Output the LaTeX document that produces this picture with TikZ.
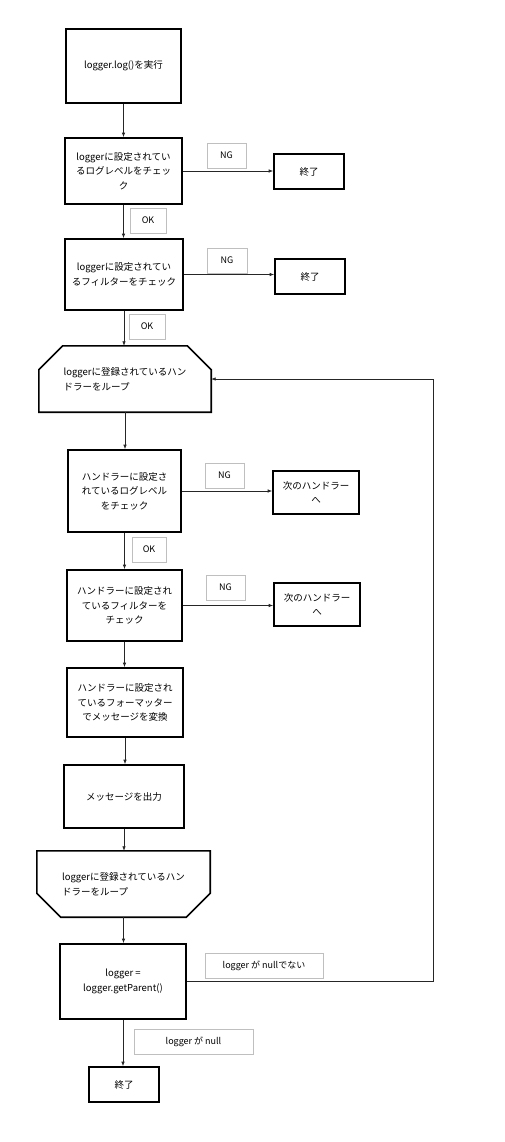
\documentclass[tikz,border=0pt]{standalone}
\usepackage{fontspec}
\setmainfont{Noto Sans CJK JP}
\usetikzlibrary{calc,arrows.meta}

\begin{document}
\begin{tikzpicture}[x=1pt,y=-1pt,font=\fontsize{9.5}{14.5}\selectfont,
        box/.style={draw,line width=1.6pt,align=center,inner sep=2pt},
        lbl/.style={draw=black!25,line width=0.7pt,minimum height=25pt,inner sep=0pt,font=\fontsize{9}{11}\selectfont},
        flow/.style={-{Latex[length=4.5pt,width=3.5pt]},line width=0.7pt,black!85}]
    \useasboundingbox (0,0) rectangle (504,1142);
    % main column
    \node[box,minimum width=115pt,minimum height=74pt] (start) at (123.5,66) {logger.log()を実行};
    \node[box,minimum width=117pt,minimum height=66pt] (chk1) at (123.5,171) {loggerに設定されてい\\るログレベルをチェッ\\ク};
    \node[box,minimum width=118pt,minimum height=71pt] (chk2) at (124,274.5) {loggerに設定されてい\\るフィルターをチェック};
    \node[minimum width=172pt,minimum height=66pt,align=left] (loop1) at (125,379) {loggerに登録されているハン\\ドラーをループ};
    \node[box,minimum width=113pt,minimum height=82pt] (hchk1) at (124.5,491) {ハンドラーに設定さ\\れているログレベル\\をチェック};
    \node[box,minimum width=115pt,minimum height=71pt] (hchk2) at (124.5,605.5) {ハンドラーに設定され\\ているフィルターを\\チェック};
    \node[box,minimum width=116pt,minimum height=69pt] (fmt) at (125,702.5) {ハンドラーに設定され\\ているフォーマッター\\でメッセージを変換};
    \node[box,minimum width=120pt,minimum height=63pt] (out) at (124,796.5) {メッセージを出力};
    \node[minimum width=173pt,minimum height=66pt,align=left] (loop2) at (123.5,884) {loggerに登録されているハン\\ドラーをループ};
    \node[box,minimum width=126pt,minimum height=75pt] (parent) at (123,981.5) {logger =\\logger.getParent()};
    \node[box,minimum width=70pt,minimum height=35pt] (end3) at (124,1084.5) {終了};
    % side exits
    \node[box,minimum width=70pt,minimum height=35pt] (end1) at (309,171.5) {終了};
    \node[box,minimum width=70pt,minimum height=35pt] (end2) at (310,276.5) {終了};
    \node[box,minimum width=86pt,minimum height=43pt] (next1) at (316,492.5) {次のハンドラー\\へ};
    \node[box,minimum width=86pt,minimum height=43pt] (next2) at (317,604.5) {次のハンドラー\\へ};
    % loop shapes
    \draw[line width=1.6pt] ([xshift=24pt]loop1.north west) -- ([xshift=-24pt]loop1.north east)
        -- ([yshift=-24pt]loop1.north east) -- (loop1.south east) -- (loop1.south west)
        -- ([yshift=-24pt]loop1.north west) -- cycle;
    \draw[line width=1.6pt] (loop2.north west) -- (loop2.north east) -- ([yshift=24pt]loop2.south east)
        -- ([xshift=-24pt]loop2.south east) -- ([xshift=24pt]loop2.south west)
        -- ([yshift=24pt]loop2.south west) -- cycle;
    % labels
    \foreach \t/\x/\y/\w [count=\n] in {NG/226.5/155.5/39, OK/148/220.5/36, NG/227/260.5/40, OK/147/326.5/36,
            NG/224.5/475.5/39, OK/149/549.5/34, NG/225.5/587.5/39} {
        \node[lbl,minimum width=\w pt] (L\n) at (\x,\y) {\t};
    }
    \node[lbl,minimum width=118pt] (notnull) at (264,965.5) {logger が nullでない};
    \node[lbl,minimum width=119pt] (isnull) at (193.5,1041.5) {logger が null};
    % connectors
    \foreach \a/\b in {start/chk1, chk1/chk2, chk2/loop1, loop1/hchk1, hchk1/hchk2, hchk2/fmt,
            fmt/out, out/loop2, loop2/parent, parent/end3} {
        \draw[flow] (\a.south) -- (\a.south |- \b.north);
    }
    \foreach \a/\b in {chk1/end1, chk2/end2, hchk1/next1, hchk2/next2} {
        \draw[flow] (\a.east) -- (\a.east -| \b.west);
    }
    \coordinate (back) at (433,379);
    \draw[flow] (parent.east) -| (back) -- (loop1.east);
\end{tikzpicture}
\end{document}
